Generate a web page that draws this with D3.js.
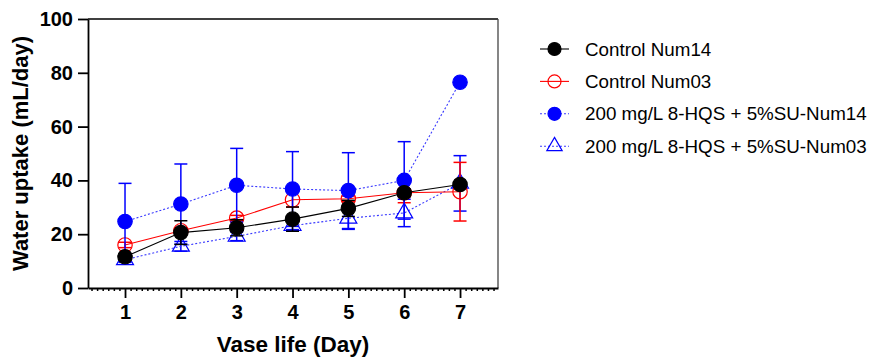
<!DOCTYPE html>
<html>
<head>
<meta charset="utf-8">
<script src="https://cdn.jsdelivr.net/npm/d3@7"></script>
<style>
  html, body { margin: 0; padding: 0; background: #fff; }
  svg { display: block; }
</style>
</head>
<body>
<script>
// vase life days
const days = [1, 2, 3, 4, 5, 6, 7];

// mean water uptake (mL/day) and error per treatment
const controlNum14 = [11.6, 20.6, 22.4, 25.6, 29.6, 35.4, 38.5];
const controlNum14Err = [1.0, 4.4, 3.0, 4.5, 3.0, 1.5, 1.0];

const controlNum03 = [16.0, 21.3, 26.0, 32.8, 33.2, 35.4, 35.8];
const controlNum03Err = [1.0, 1.0, 1.0, 2.7, 1.0, 3.7, 10.9];

const hqsNum14 = [24.7, 31.2, 38.2, 36.8, 36.2, 40.0, 76.5];
const hqsNum14Err = [14.2, 14.9, 13.7, 13.9, 14.1, 14.4, 0];

const hqsNum03 = [10.5, 15.5, 19.2, 23.2, 25.9, 27.9, 38.9];
const hqsNum03Err = [1.0, 1.8, 1.6, 1.5, 4.1, 5.1, 10.3];

const yTicks = [0, 20, 40, 60, 80, 100];

const series = [
  { name: "Control Num14", values: controlNum14, err: controlNum14Err, color: "#000", line: "#000", dash: null, shape: "circle", filled: true },
  { name: "Control Num03", values: controlNum03, err: controlNum03Err, color: "#ff0000", line: "#ff0000", dash: null, shape: "circle", filled: false },
  { name: "200 mg/L 8-HQS + 5%SU-Num14", values: hqsNum14, err: hqsNum14Err, color: "#0000ff", line: "#3a3aff", dash: "2,2", shape: "circle", filled: true },
  { name: "200 mg/L 8-HQS + 5%SU-Num03", values: hqsNum03, err: hqsNum03Err, color: "#0000ff", line: "#3a3aff", dash: "2,2", shape: "triangle", filled: false }
];
// painting order (last on top)
const drawOrder = [3, 1, 2, 0];

const width = 872, height = 358;
const margin = { left: 88, right: 374, top: 19, bottom: 70 };
const font = "Arial, 'Liberation Sans', sans-serif";

const svg = d3.select("body").append("svg")
    .attr("width", width)
    .attr("height", height)
    .attr("font-family", font);

const x = d3.scaleLinear()
    .domain([0.337, 7.68])
    .range([margin.left, width - margin.right]);

const y = d3.scaleLinear()
    .domain([0, 100])
    .range([height - margin.bottom, margin.top]);

// frame: top and right edges
svg.append("line")
    .attr("x1", x.range()[0]).attr("x2", x.range()[1])
    .attr("y1", y(100)).attr("y2", y(100))
    .attr("stroke", "#000").attr("stroke-width", 1.3);
svg.append("line")
    .attr("x1", x.range()[1]).attr("x2", x.range()[1])
    .attr("y1", y(100)).attr("y2", y(0))
    .attr("stroke", "#444").attr("stroke-width", 1.3);

// y axis
const yAxis = svg.append("g")
    .attr("transform", `translate(${margin.left},0)`)
    .call(d3.axisLeft(y).tickValues(yTicks).tickSize(10).tickPadding(5).tickSizeOuter(0));
yAxis.select(".domain").attr("stroke-width", 1.8);
yAxis.selectAll(".tick line").attr("stroke-width", 1.8);
yAxis.selectAll("text")
    .attr("font-family", font)
    .attr("font-size", 20)
    .attr("font-weight", "bold")
    .attr("fill", "#000");

// x axis with minor ticks
const minor = d3.range(4, 77).map(d => d / 10).filter(d => Math.abs(d - Math.round(d)) > 1e-6);
svg.append("g")
    .attr("transform", `translate(0,${y(0)})`)
    .call(d3.axisBottom(x).tickValues(minor).tickSize(3).tickFormat("").tickSizeOuter(0))
    .call(g => g.select(".domain").remove())
    .selectAll(".tick line").attr("stroke-width", 1.5);

const xAxis = svg.append("g")
    .attr("transform", `translate(0,${y(0)})`)
    .call(d3.axisBottom(x).tickValues(days).tickSize(10).tickPadding(7).tickSizeOuter(0).tickFormat(d3.format("d")));
xAxis.select(".domain").attr("stroke-width", 1.8);
xAxis.selectAll(".tick line").attr("stroke-width", 1.8);
xAxis.selectAll("text")
    .attr("font-family", font)
    .attr("font-size", 20)
    .attr("font-weight", "bold")
    .attr("fill", "#000");

// axis titles
svg.append("text")
    .attr("x", (x.range()[0] + x.range()[1]) / 2)
    .attr("y", 352)
    .attr("text-anchor", "middle")
    .attr("font-size", 22.5)
    .attr("font-weight", "bold")
    .text("Vase life (Day)");

svg.append("text")
    .attr("transform", `translate(28,${(y(0) + y(100)) / 2}) rotate(-90)`)
    .attr("text-anchor", "middle")
    .attr("font-size", 22)
    .attr("font-weight", "bold")
    .text("Water uptake (mL/day)");

function marker(sel, s, r) {
  if (s.shape === "circle") {
    sel.append("circle")
        .attr("r", r)
        .attr("fill", s.filled ? s.color : "none")
        .attr("stroke", s.color)
        .attr("stroke-width", 1.2);
  } else {
    sel.append("path")
        .attr("d", d3.symbol(d3.symbolTriangle, r * r * 2.4)())
        .attr("fill", "none")
        .attr("stroke", s.color)
        .attr("stroke-width", 1.2);
  }
}

const plot = svg.append("g");
const line = d3.line().x((d, i) => x(days[i])).y(d => y(d));

drawOrder.forEach(k => {
  const s = series[k];
  const g = plot.append("g");

  // error bars
  const eb = g.append("g").attr("stroke", s.color).attr("stroke-width", 1.5);
  s.values.forEach((v, i) => {
    const e = s.err[i];
    if (!e) return;
    const cx = x(days[i]);
    eb.append("line").attr("x1", cx).attr("x2", cx).attr("y1", y(v - e)).attr("y2", y(v + e));
    eb.append("line").attr("x1", cx - 6.5).attr("x2", cx + 6.5).attr("y1", y(v + e)).attr("y2", y(v + e));
    eb.append("line").attr("x1", cx - 6.5).attr("x2", cx + 6.5).attr("y1", y(v - e)).attr("y2", y(v - e));
  });

  g.append("path")
      .attr("d", line(s.values))
      .attr("fill", "none")
      .attr("stroke", s.line)
      .attr("stroke-width", 1.1)
      .attr("stroke-dasharray", s.dash);

  g.selectAll(".pt")
    .data(s.values)
    .join("g")
      .attr("transform", (d, i) => `translate(${x(days[i])},${y(d)})`)
      .each(function() { marker(d3.select(this), s, 7.2); });
});

// legend
const legend = svg.append("g").attr("transform", "translate(540,49)");
series.forEach((s, i) => {
  const row = legend.append("g").attr("transform", `translate(0,${i * 32.4})`);
  row.append("line")
      .attr("x1", 0).attr("x2", 29)
      .attr("stroke", s.line)
      .attr("stroke-width", 1.1)
      .attr("stroke-dasharray", s.dash);
  const m = row.append("g").attr("transform", "translate(14.5,0)");
  marker(m, s, 6.5);
  row.append("text")
      .attr("x", 45)
      .attr("dy", "0.35em")
      .attr("font-size", 18.8)
      .text(s.name);
});
</script>
</body>
</html>
